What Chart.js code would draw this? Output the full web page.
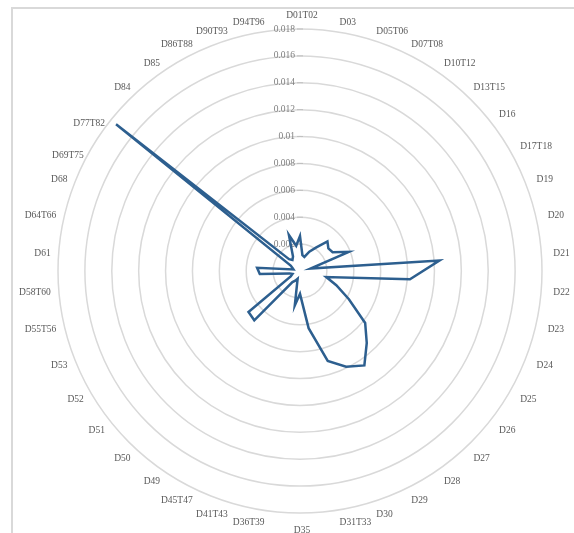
<!DOCTYPE html>
<html>
<head>
<meta charset="utf-8">
<script src="https://cdn.jsdelivr.net/npm/chart.js@4/dist/chart.umd.min.js"></script>
<style>
  html, body { margin: 0; padding: 0; background: #fff; overflow: hidden; }
  body { width: 574px; height: 533px; position: relative; }
  #frame {
    position: absolute; left: 11px; top: 7px; width: 640px; height: 640px;
    border: 2px solid #d9d9d9; box-sizing: border-box;
  }
  #wrap { position: absolute; left: 0; top: 0; width: 574px; height: 533px; }
</style>
</head>
<body>
<div id="frame"></div>
<div id="wrap"><canvas id="chart"></canvas></div>
<script>
const categories = [
  "D01T02", "D03", "D05T06", "D07T08", "D10T12", "D13T15", "D16", "D17T18",
  "D19", "D20", "D21", "D22", "D23", "D24", "D25", "D26", "D27", "D28", "D29",
  "D30", "D31T33", "D35", "D36T39", "D41T43", "D45T47", "D49", "D50", "D51",
  "D52", "D53", "D55T56", "D58T60", "D61", "D64T66", "D68", "D69T75",
  "D77T82", "D84", "D85", "D86T88", "D90T93", "D94T96"
];

const values = [
  0.0026, 0.0012, 0.0011, 0.0016, 0.0021, 0.0030, 0.0027, 0.0028,
  0.0039, 0.0008, 0.0104, 0.0082, 0.0020, 0.0029, 0.0042, 0.0062, 0.0073, 0.0085, 0.0079,
  0.0070, 0.0043, 0.0017, 0.0026, 0.0006, 0.0008, 0.0010, 0.0050, 0.0049,
  0.0008, 0.0006, 0.0008, 0.0030, 0.0032, 0.0005, 0.0006, 0.0008,
  0.0175, 0.0012, 0.0010, 0.0012, 0.0028, 0.0019
];

const tickStep = 0.002;
const tickMax = 0.018;

const LINE = "#2d5f8f";
const GRID = "#d9d9d9";
const TEXT = "#595959";
const FONT = "'Liberation Serif', 'DejaVu Serif', serif";

// value labels sit left of the (hidden) axis, with a short tick mark, Excel style
const tickLabels = {
  id: "tickLabels",
  beforeDatasetsDraw(chart) {
    const scale = chart.scales.r;
    const ctx = chart.ctx;
    ctx.save();
    ctx.font = "9.5px " + FONT;
    ctx.fillStyle = "#808080";
    ctx.textAlign = "right";
    ctx.textBaseline = "middle";
    ctx.strokeStyle = "#bfbfbf";
    ctx.lineWidth = 1;
    scale.ticks.forEach(t => {
      if (t.value === 0) return;
      const y = scale.yCenter - scale.getDistanceFromCenterForValue(t.value);
      ctx.fillText(String(+t.value.toFixed(3)), scale.xCenter - 5, y);
      ctx.beginPath();
      ctx.moveTo(scale.xCenter - 3, y);
      ctx.lineTo(scale.xCenter + 3, y);
      ctx.stroke();
    });
    ctx.restore();
  }
};

// category labels: left/right aligned on their spoke just outside the outer ring
const nudgeY = { D69T75: 9, D77T82: 9 };
const categoryLabels = {
  id: "categoryLabels",
  afterDatasetsDraw(chart) {
    const scale = chart.scales.r;
    const ctx = chart.ctx;
    ctx.save();
    ctx.font = "9.5px " + FONT;
    ctx.fillStyle = TEXT;
    chart.data.labels.forEach((lab, i) => {
      const deg = Math.round(scale.getIndexAngle(i) * 180 / Math.PI) % 360;
      const p = scale.getPointPosition(i, scale.drawingArea + 10);
      ctx.textAlign = deg === 0 || deg === 180 ? "center" : deg < 180 ? "left" : "right";
      ctx.textBaseline = deg === 0 ? "bottom" : deg === 180 ? "top" : "middle";
      const dy = (deg > 90 && deg < 270 ? 2.5 : 1) + (nudgeY[lab] || 0);
      ctx.fillText(lab, p.x + 2, p.y + dy);
    });
    ctx.restore();
  }
};

new Chart(document.getElementById("chart"), {
  type: "radar",
  data: {
    labels: categories,
    datasets: [{
      data: values,
      borderColor: LINE,
      borderWidth: 2.5,
      pointRadius: 0,
      fill: false,
      tension: 0
    }]
  },
  options: {
    animation: false,
    responsive: true,
    maintainAspectRatio: false,
    layout: { padding: { left: 58, top: 29, right: 32, bottom: 20 } },
    plugins: {
      legend: { display: false },
      tooltip: { enabled: false }
    },
    scales: {
      r: {
        min: 0,
        max: tickMax,
        ticks: { stepSize: tickStep, display: false },
        grid: { circular: true, color: GRID, lineWidth: 1.5 },
        angleLines: { display: false },
        pointLabels: { display: false }
      }
    }
  },
  plugins: [tickLabels, categoryLabels]
});
</script>
</body>
</html>
